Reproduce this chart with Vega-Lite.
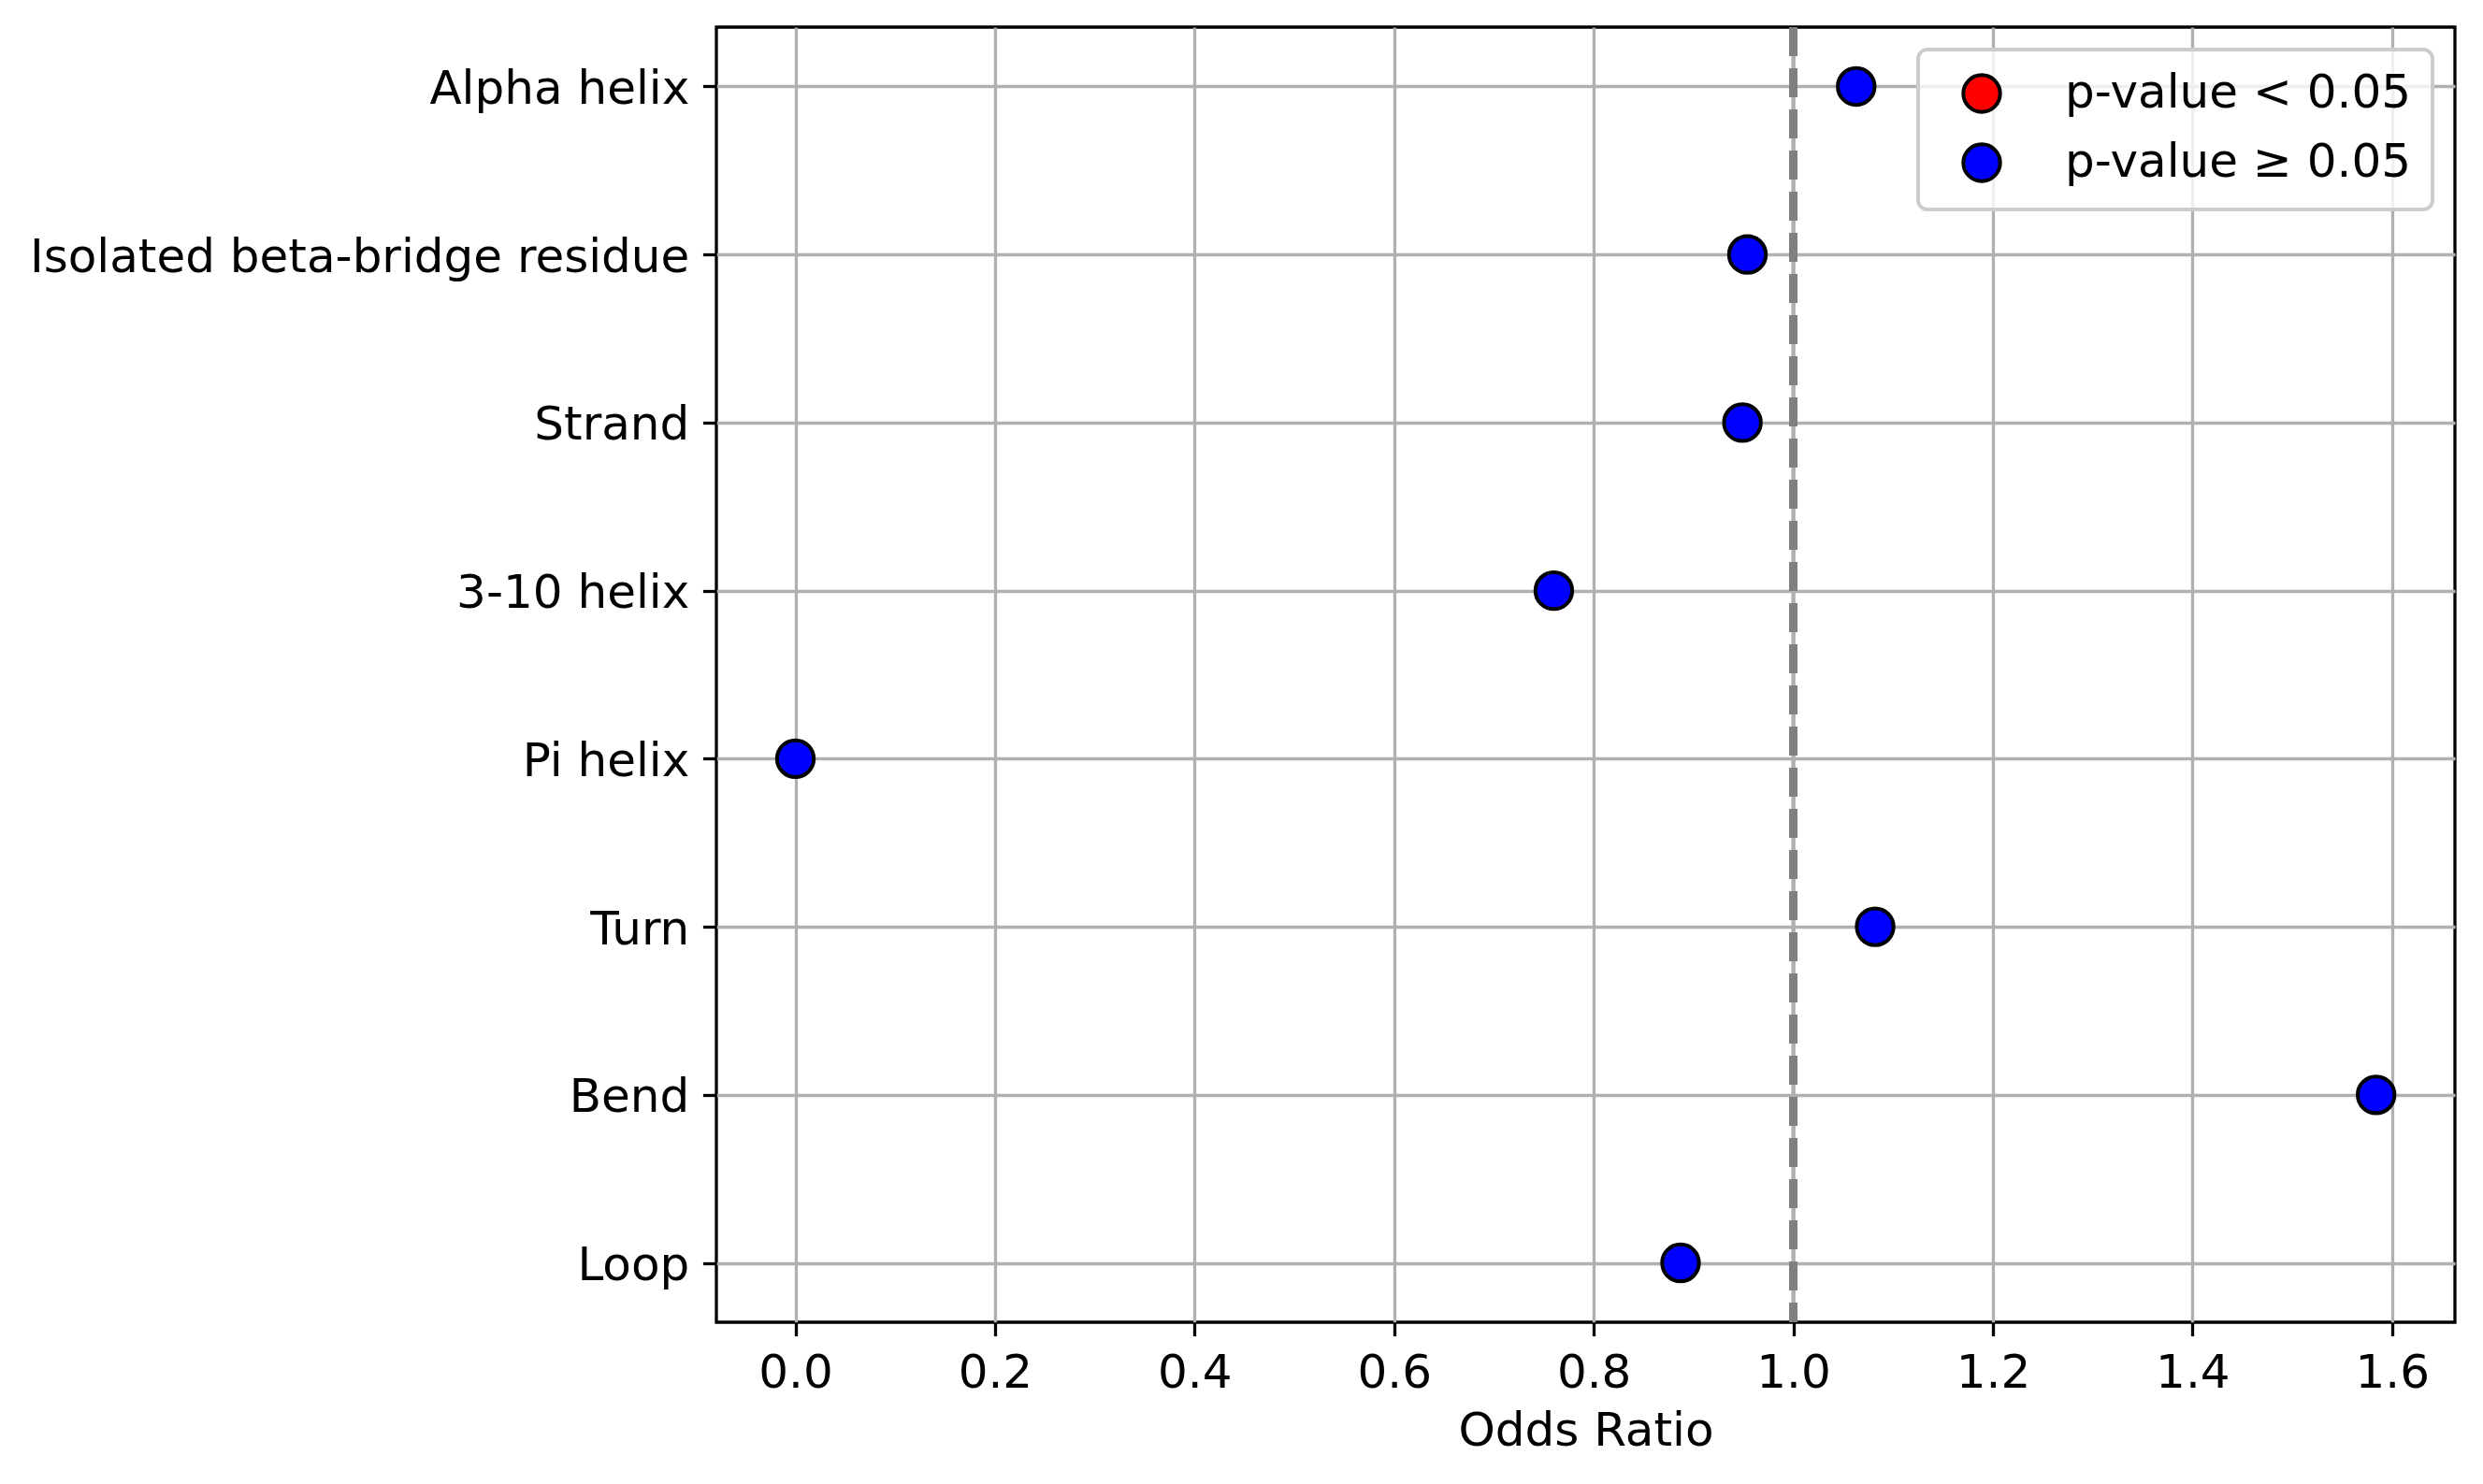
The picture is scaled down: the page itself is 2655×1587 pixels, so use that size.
{
  "$schema": "https://vega.github.io/schema/vega-lite/v6.json",
  "autosize": {"type": "none"},
  "padding": {"left": 766, "top": 29, "right": 30, "bottom": 173},
  "width": 1859,
  "height": 1385,
  "background": "white",
  "config": {
    "view": {"stroke": "black", "strokeWidth": 3.3, "fill": "white"},
    "font": "DejaVu Sans",
    "axis": {
      "labelFont": "DejaVu Sans",
      "titleFont": "DejaVu Sans",
      "labelFontSize": 50,
      "titleFontSize": 50,
      "titleFontWeight": "normal",
      "labelColor": "black",
      "titleColor": "black",
      "labelLimit": 0,
      "tickColor": "black",
      "tickWidth": 3.3,
      "tickSize": 14.6,
      "labelPadding": 14.6,
      "domain": false,
      "gridColor": "#b0b0b0",
      "gridWidth": 3.3,
      "zindex": 1
    },
    "legend": {
      "labelFont": "DejaVu Sans",
      "labelFontSize": 50,
      "labelColor": "black",
      "labelLimit": 0,
      "strokeWidth": 4
    }
  },
  "data": {
    "values": [
      {"structure": "Alpha helix", "odds_ratio": 1.063, "significance": "p-value ≥ 0.05"},
      {"structure": "Isolated beta-bridge residue", "odds_ratio": 0.954, "significance": "p-value ≥ 0.05"},
      {"structure": "Strand", "odds_ratio": 0.949, "significance": "p-value ≥ 0.05"},
      {"structure": "3-10 helix", "odds_ratio": 0.760, "significance": "p-value ≥ 0.05"},
      {"structure": "Pi helix", "odds_ratio": 0.0, "significance": "p-value ≥ 0.05"},
      {"structure": "Turn", "odds_ratio": 1.082, "significance": "p-value ≥ 0.05"},
      {"structure": "Bend", "odds_ratio": 1.584, "significance": "p-value ≥ 0.05"},
      {"structure": "Loop", "odds_ratio": 0.887, "significance": "p-value ≥ 0.05"}
    ]
  },
  "layer": [
    {
      "mark": {"type": "point", "filled": true, "shape": "circle", "size": 1550, "stroke": "black", "strokeWidth": 4, "opacity": 1},
      "encoding": {
        "x": {
          "field": "odds_ratio",
          "type": "quantitative",
          "scale": {"domain": [-0.0792, 1.663], "nice": false, "zero": false},
          "axis": {
            "title": "Odds Ratio",
            "values": [0, 0.2, 0.4, 0.6, 0.8, 1.0, 1.2, 1.4, 1.6],
            "format": ".1f",
            "grid": true,
            "gridOpacity": {"condition": {"test": "abs(datum.value - 1) < 0.000001", "value": 0}, "value": 1},
            "titlePadding": 12
          }
        },
        "y": {
          "field": "structure",
          "type": "ordinal",
          "sort": ["Alpha helix", "Isolated beta-bridge residue", "Strand", "3-10 helix", "Pi helix", "Turn", "Bend", "Loop"],
          "scale": {"type": "point", "padding": 0.353},
          "axis": {"title": null, "grid": true, "labelOffset": 3}
        },
        "color": {
          "field": "significance",
          "type": "nominal",
          "scale": {"domain": ["p-value < 0.05", "p-value ≥ 0.05"], "range": ["#ff0000", "#0000ff"]},
          "legend": {
            "title": null,
            "orient": "top-right",
            "offset": 24,
            "padding": 22,
            "symbolOffset": 21,
            "labelOffset": 64,
            "rowPadding": 18,
            "labelLimit": 0,
            "symbolType": "circle",
            "symbolSize": 1550,
            "symbolStrokeColor": "black",
            "symbolStrokeWidth": 4,
            "symbolOpacity": 1,
            "strokeColor": "#cccccc",
            "cornerRadius": 10,
            "fillColor": "rgba(255,255,255,0.8)"
          }
        }
      }
    },
    {
      "mark": {"type": "rule", "color": "#b0b0b0", "strokeWidth": 3.3},
      "encoding": {"x": {"datum": 1}}
    },
    {
      "mark": {"type": "rule", "color": "#808080", "strokeWidth": 8.3, "strokeDash": [31, 13]},
      "encoding": {"x": {"datum": 1}}
    }
  ]
}
